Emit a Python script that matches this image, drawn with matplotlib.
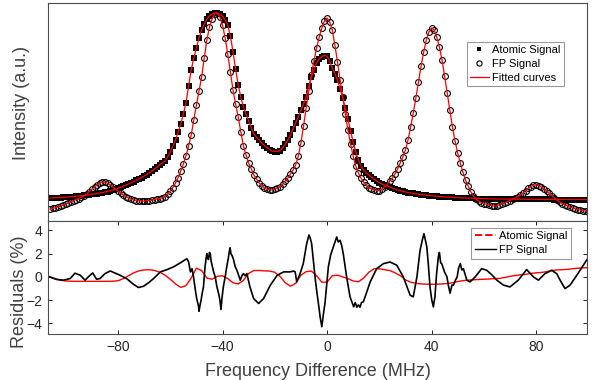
import numpy as np
import matplotlib
matplotlib.use('Agg')
import matplotlib.pyplot as plt
from matplotlib.lines import Line2D

plt.rcParams['font.family'] = ['Liberation Sans', 'DejaVu Sans']

# frequency grid of the spectra (MHz), 1 MHz steps
freq = np.arange(-106, 101, 1)

# atomic signal (bottom of panel = 220.5)
atomic_px = [198, 197.9, 197.8, 197.6, 197.5, 197.3, 197.2, 197, 196.8, 196.5,
             196.3, 196, 195.7, 195.4, 195, 194.7, 194.3, 193.9, 193.5, 193,
             192.6, 192, 191.5, 190.8, 190, 189.2, 188.3, 187.3, 186.3, 185.2,
             184, 182.8, 181.5, 180.3, 179, 177.5, 176, 174.5, 173, 171,
             169, 167, 164.5, 163, 161, 157, 152, 146, 140, 132,
             124, 114, 103, 86, 70, 58, 48, 38, 30, 24,
             19, 16, 14, 13, 13, 14, 16, 20, 25, 36,
             52, 69, 85, 97, 107, 114, 121, 128, 134, 137,
             140, 143, 145.5, 147.5, 149.5, 151, 151.5, 151.5, 150.5, 148,
             144, 140, 135, 129, 123, 117, 110, 104, 97, 86,
             77, 70, 63, 59, 56.5, 55.5, 56, 61, 68, 74,
             80, 89, 98, 108, 119, 131, 142, 152, 160, 166,
             170, 173, 175, 177, 179, 181, 182.5, 184, 185, 186,
             187, 188, 189, 190, 190.5, 191.3, 192, 192.5, 193, 193.4,
             193.8, 194.2, 194.5, 194.9, 195.2, 195.5, 195.8, 196.1, 196.3, 196.5,
             196.7, 196.9, 197, 197.2, 197.3, 197.5, 197.6, 197.8, 197.9, 198,
             198.2, 198.3, 198.4, 198.5, 198.6, 198.7, 198.8, 198.9, 199, 199,
             199, 199, 199, 199, 199.1, 199.1, 199.1, 199.1, 199.2, 199.2,
             199.2, 199.2, 199.3, 199.3, 199.3, 199.3, 199.3, 199.4, 199.4, 199.4,
             199.4, 199.4, 199.4, 199.5, 199.5, 199.5, 199.5, 199.5, 199.5, 199.5,
             199.5, 199.5, 199.5, 199.5, 199.5, 199.5, 199.5]

# Fabry-Perot signal
fp_px = [209, 208.4, 207.7, 206.9, 206, 205, 204, 203, 201.8, 200.7,
         199.5, 198.5, 197.3, 196, 194, 191.5, 189, 186.8, 184.8, 183,
         182, 182.3, 183.2, 184.8, 186.8, 189, 191, 193, 195, 196.6,
         198, 199, 200, 200.5, 200.8, 201, 201, 200.8, 200.5, 200,
         199.5, 199, 198.5, 197.6, 196.5, 194, 191, 187.5, 183, 177.5,
         171, 164, 156, 146, 135, 120, 105, 91, 77, 58,
         40, 27, 19, 14, 13, 17, 25, 38, 54, 72,
         90, 104, 117, 132, 146, 155, 163, 169, 175, 179,
         183, 185.5, 188, 189.3, 190, 189.8, 189, 188, 186.5, 184,
         181, 178, 174, 170, 165, 156, 143, 126, 108, 91,
         75, 61, 48, 37, 28, 21, 18, 22, 30, 45,
         62, 80, 97, 114, 130, 144, 156, 166, 173, 178,
         182, 185, 187.5, 189, 189.5, 190.5, 190.5, 189, 187, 184.5,
         181, 178, 174, 169, 163, 157, 150, 140, 127, 113,
         98, 82, 66, 52, 40, 32, 28, 30, 37, 47,
         60, 76, 93, 110, 127, 141, 153, 163, 172, 180,
         186, 191.5, 196, 199, 201, 202.5, 203.5, 204.3, 205, 205.6,
         206, 205.6, 205, 204, 203, 201.8, 200.5, 199.3, 198, 196.5,
         195, 193, 190.5, 188.3, 186.5, 185.3, 185, 185.6, 187, 189,
         191, 193.3, 195.5, 197.8, 200, 202, 203.5, 204.8, 206, 207,
         208, 208.8, 209.5, 210, 210.5, 211, 211.5]

atomic = (220.5 - np.array(atomic_px)) / 217.5
fp = (220.5 - np.array(fp_px)) / 217.5

# residuals (%)
freq_res = np.arange(-106, 101, 2)
res_atomic = [0, -0.15, -0.28, -0.35, -0.37, -0.38, -0.38, -0.38, -0.38, -0.38,
              -0.38, -0.38, -0.37, -0.33, -0.15, 0.1, 0.35, 0.52, 0.6, 0.62,
              0.55, 0.4, 0.15, -0.2, -0.6, -0.9, -0.75, -0.1, 0.75, 0.55,
              -0.1, -0.2, 0.05, 0.1, -0.15, -0.5, -0.6, -0.3, 0.3, 0.55,
              0.55, 0.52, 0.5, 0.4, 0.05, -0.5, -0.8, -0.55, 0.15, 0.45,
              0.5, 0.1, -0.45, -0.45, 0.1, 0.15, 0.0, -0.15, -0.35, -0.42,
              -0.1, 0.4, 0.7, 0.7, 0.62, 0.55, 0.35, 0.12, -0.25, -0.45,
              -0.55, -0.6, -0.62, -0.63, -0.63, -0.6, -0.57, -0.5, -0.4, -0.32,
              -0.28, -0.25, -0.22, -0.2, -0.18, -0.15, -0.13, -0.05, 0.05, 0.12,
              0.18, 0.22, 0.3, 0.35, 0.38, 0.45, 0.55, 0.6, 0.62, 0.65,
              0.7, 0.75, 0.78, 0.8]

freq_fp_res = [-106.7, -105, -103.5, -100.9, -98.3, -96.5, -94.5, -92.6, -91.4, -89.7,
               -88.2, -86.9, -85, -83, -81.2, -79.2, -76.7, -74.1, -72.2, -70.2,
               -68.3, -66.4, -63.8, -61.2, -58.8, -56.2, -55.2, -54.2, -53.6, -53,
               -52.6, -52.3, -51.7, -51.1, -50.4, -49.9, -49.5, -49.2, -49, -48.6,
               -48.2, -47.8, -47.3, -46.7, -46.3, -46, -45.7, -45.4, -45, -44.7,
               -44.4, -44.1, -43.5, -42.8, -42.2, -41.5, -41, -40.6, -40.2, -39.7,
               -39, -38.4, -37.8, -37.4, -37.1, -36.8, -36.3, -35.8, -35.2, -34.5,
               -33.8, -33.2, -32.6, -32, -31.4, -30.7, -30.1, -29.5, -28.1, -26.2,
               -24.3, -21.7, -19.1, -16.6, -14.2, -12.8, -12.2, -11.6, -11, -10.3,
               -9.1, -7.8, -6.9, -6.4, -5.9, -5.3, -4.6, -3.9, -3.3, -2.6,
               -2, -1.4, -0.8, 0.5, 1.4, 2.4, 3.2, 3.7, 4.3, 5,
               5.6, 6.2, 7.5, 8.8, 10.2, 10.8, 11.4, 12, 12.6, 13.2,
               13.9, 15.2, 16.5, 19, 21.6, 24.1, 26.7, 29.2, 31.8, 33,
               34.4, 35.6, 36.5, 37.1, 37.6, 38.2, 38.8, 39.4, 40.1, 40.7,
               41.3, 41.9, 42.6, 43, 43.5, 43.9, 45, 45.9, 46.5, 47.1,
               47.8, 48.4, 49.1, 49.8, 50.4, 51, 51.6, 52.2, 53.5, 54.7,
               56.7, 59.2, 61.1, 63, 65, 67.5, 70, 73.2, 76.4, 79,
               80.9, 83.4, 86, 87.9, 89.5, 91.1, 93, 95.6, 97.5, 99.5,
               100]
res_fp = [0.05, -0.1, -0.22, -0.28, -0.14, 0.32, 0.15, -0.28, 0.0, 0.34,
          -0.2, -0.14, 0.28, 0.51, 0.33, 0.14, -0.15, -0.63, -0.91, -0.8,
          -0.5, -0.14, 0.43, 0.63, 0.86, 1.2, 1.35, 1.49, 1.55, 1.3,
          0.8, 0.43, 0.71, 0.0, -1.14, -1.85, -2.2, -2.5, -2.95, -2.4,
          -2.0, -1.4, -0.86, 0.86, 1.6, 2.0, 1.6, 1.5, 2.1, 2.0,
          1.4, 1.1, 0.5, 0, -0.8, -1.43, -2.0, -2.8, -1.8, -0.86,
          0.0, 0.86, 1.6, 2.2, 2.5, 2.0, 1.8, 1.5, 0.9, 0.57,
          0.1, -0.29, 0.1, 0.29, 0.1, 0.29, -0.3, -0.86, -1.86, -2.28,
          -1.86, -0.71, 0.14, 0.43, 0.43, 0.5, 0.43, -0.43, -0.1, 0.3,
          1.14, 2.86, 3.6, 3.3, 2.86, 1.5, 0, -1.3, -2.28, -3.5,
          -4.28, -3.2, -2.28, 0.86, 1.9, 2.57, 3.1, 3.43, 3.0, 3.14,
          2.7, 2.0, 0, -1.71, -2.57, -2.2, -2.6, -2.4, -2.6, -2.2,
          -2.14, -1.3, -0.43, 0.71, 1.14, 1.28, 1.0, 0, -1.57, -1.71,
          0, 2.28, 3.2, 3.72, 3.2, 2.57, 1.0, -0.86, -2.0, -2.57,
          -1.7, 0.2, 1.71, 2.1, 1.2, 1.14, 0.4, 0, -0.8, -1.4,
          -0.7, -0.7, -0.3, 0, 0.8, 1.14, 0.6, 0.71, -0.28, -0.43,
          0, 0.71, 0.57, 0.2, -0.28, -0.7, -0.86, -0.28, 0.63, 0,
          -0.28, 0.28, 0.57, 0.28, -0.4, -1.0, -0.71, 0.14, 0.8, 1.49,
          1.6]

spine_col = '#4d4d4d'
text_col = '#262626'

fig = plt.figure(figsize=(5.98, 3.80), dpi=100)
ax1 = fig.add_axes([0.0803, 0.4197, 0.9013, 0.5724])
ax2 = fig.add_axes([0.0803, 0.1211, 0.9013, 0.2973])

# top panel: spectra
ax1.plot(freq, atomic, 's', color='black', markersize=3.8, markeredgewidth=0,
         label='Atomic Signal')
ax1.plot(freq, fp, 'o', markerfacecolor='none', markeredgecolor='black',
         markersize=4.2, markeredgewidth=0.8, label='FP Signal')
ax1.plot(freq, atomic, '-', color='red', lw=0.9, label='Fitted curves')
ax1.plot(freq, fp, '-', color='red', lw=0.9)
ax1.set_xlim(-106.8, 99.5)
ax1.set_ylim(0, 1)
ax1.set_xticks([])
ax1.set_yticks([])
ax1.set_ylabel('Intensity (a.u.)', fontsize=13, color='#404040')
ax1.yaxis.set_label_coords(-0.034, 0.54)
h, l = ax1.get_legend_handles_labels()
leg1 = ax1.legend(h[:3], l[:3], loc='upper right', bbox_to_anchor=(0.957, 0.821),
                  fontsize=8, frameon=True, fancybox=False, handlelength=1.7,
                  handletextpad=0.3, borderpad=0.3, labelspacing=0.35,
                  borderaxespad=0, markerscale=0.9)
leg1.get_frame().set_edgecolor('#808080')
leg1.get_frame().set_linewidth(0.8)

# bottom panel: residuals
ax2.plot(freq_res, res_atomic, '-', color='red', lw=1.0)
ax2.plot(freq_fp_res, res_fp, '-', color='black', lw=1.2)
ax2.set_xlim(-106.8, 99.5)
ax2.set_ylim(-4.9, 4.8)
ax2.set_xticks([-80, -40, 0, 40, 80])
ax2.set_yticks([-4, -2, 0, 2, 4])
ax2.tick_params(direction='in', length=3, width=0.7, top=True, right=True,
                labelsize=10, colors=text_col, pad=4)
ax2.set_xlabel('Frequency Difference (MHz)', fontsize=13, color='#404040',
               labelpad=7)
ax2.set_ylabel('Residuals (%)', fontsize=13, color='#404040')
ax2.yaxis.set_label_coords(-0.038, 0.37)
handles2 = [Line2D([], [], color='red', ls='--', lw=1.4),
            Line2D([], [], color='black', ls='-', lw=1.0)]
leg2 = ax2.legend(handles2, ['Atomic Signal', 'FP Signal'], loc='upper right',
                  bbox_to_anchor=(0.970, 0.938), fontsize=8, frameon=True,
                  fancybox=False, handlelength=1.9, handletextpad=0.3,
                  borderpad=0.3, labelspacing=0.35, borderaxespad=0)
leg2.get_frame().set_edgecolor('#808080')
leg2.get_frame().set_linewidth(0.8)

for ax in (ax1, ax2):
    for s in ax.spines.values():
        s.set_color(spine_col)
        s.set_linewidth(0.8)

fig.savefig('out.png', dpi=100)
